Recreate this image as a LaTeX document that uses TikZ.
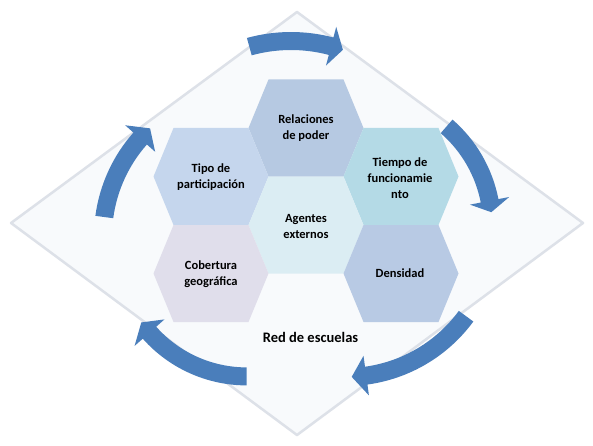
\documentclass[tikz,border=0pt]{standalone}
\usepackage{fontspec}
\setmainfont{Carlito}
\definecolor{arrowblue}{RGB}{74,126,187}
\definecolor{hexrel}{RGB}{182,201,226}
\definecolor{hextipo}{RGB}{197,214,237}
\definecolor{hextiempo}{RGB}{180,218,230}
\definecolor{hexagentes}{RGB}{219,237,243}
\definecolor{hexcob}{RGB}{224,222,235}
\definecolor{hexdens}{RGB}{184,202,228}
\definecolor{diamfill}{RGB}{248,250,252}
\definecolor{diamline}{RGB}{221,225,232}
\newcommand\hexat[3]{%
  \begin{scope}[shift={(#1,#2)}]
    \fill[#3] (-57.5,0) -- (-37.5,48.5) -- (37.5,48.5) -- (57.5,0) -- (37.5,-48.5) -- (-37.5,-48.5) -- cycle;
  \end{scope}}
\newcommand\bentarrow[6]{%
  \begin{scope}[shift={(#1,#2)}]
    \fill[arrowblue] ({#4}:{#3+9}) arc[start angle=#4, end angle=#5, radius=#3+9]
      -- ({#5}:{#3+20}) -- ({#6}:{#3}) -- ({#5}:{#3-20}) -- ({#5}:{#3-9})
      arc[start angle=#5, end angle=#4, radius=#3-9] -- cycle;
  \end{scope}}
\tikzset{
  lbl/.style={font=\bfseries\fontsize{12.5}{16}\selectfont, align=center, text=black, inner sep=0pt},
  biglbl/.style={font=\bfseries\fontsize{14.5}{17}\selectfont, align=center, text=black, inner sep=0pt}
}
\begin{document}
\begin{tikzpicture}[x=1pt,y=1pt]
\useasboundingbox (0,0) rectangle (593,445);
\fill[white] (0,0) rectangle (593,445);
% diamond
\filldraw[fill=diamfill, draw=diamline, line width=2.5pt, line join=round]
  (297,433) -- (583,222) -- (297,10) -- (11,222) -- cycle;
% arrows
\bentarrow{291}{247}{157}{105.4}{75.2}{70.7}
\bentarrow{360}{219}{132}{49}{11}{6}
\bentarrow{346}{217}{149}{-36.3}{-82.2}{-87.8}
\bentarrow{246.7}{198.6}{130}{-90}{-138.4}{-144.2}
\bentarrow{251}{208.4}{148}{172.4}{138.5}{133}
% hexagons
\hexat{306}{317}{hexrel}
\hexat{211}{268.5}{hextipo}
\hexat{401}{268.5}{hextiempo}
\hexat{306}{220}{hexagentes}
\hexat{211}{171.5}{hexcob}
\hexat{401}{171.5}{hexdens}
% labels
\node[lbl] (rel) at (306,317) {Relaciones\\de poder};
\node[lbl] (tipo) at (211,268) {Tipo de\\participación};
\node[lbl] (tiempo) at (400,267) {Tiempo de\\funcionamie\\nto};
\node[lbl] (agentes) at (306,219) {Agentes\\externos};
\node[lbl] (cob) at (211,171) {Cobertura\\geográfica};
\node[lbl] (dens) at (400,172) {Densidad};
\node[biglbl] (red) at (310.5,108) {Red de escuelas};
\end{tikzpicture}
\end{document}
